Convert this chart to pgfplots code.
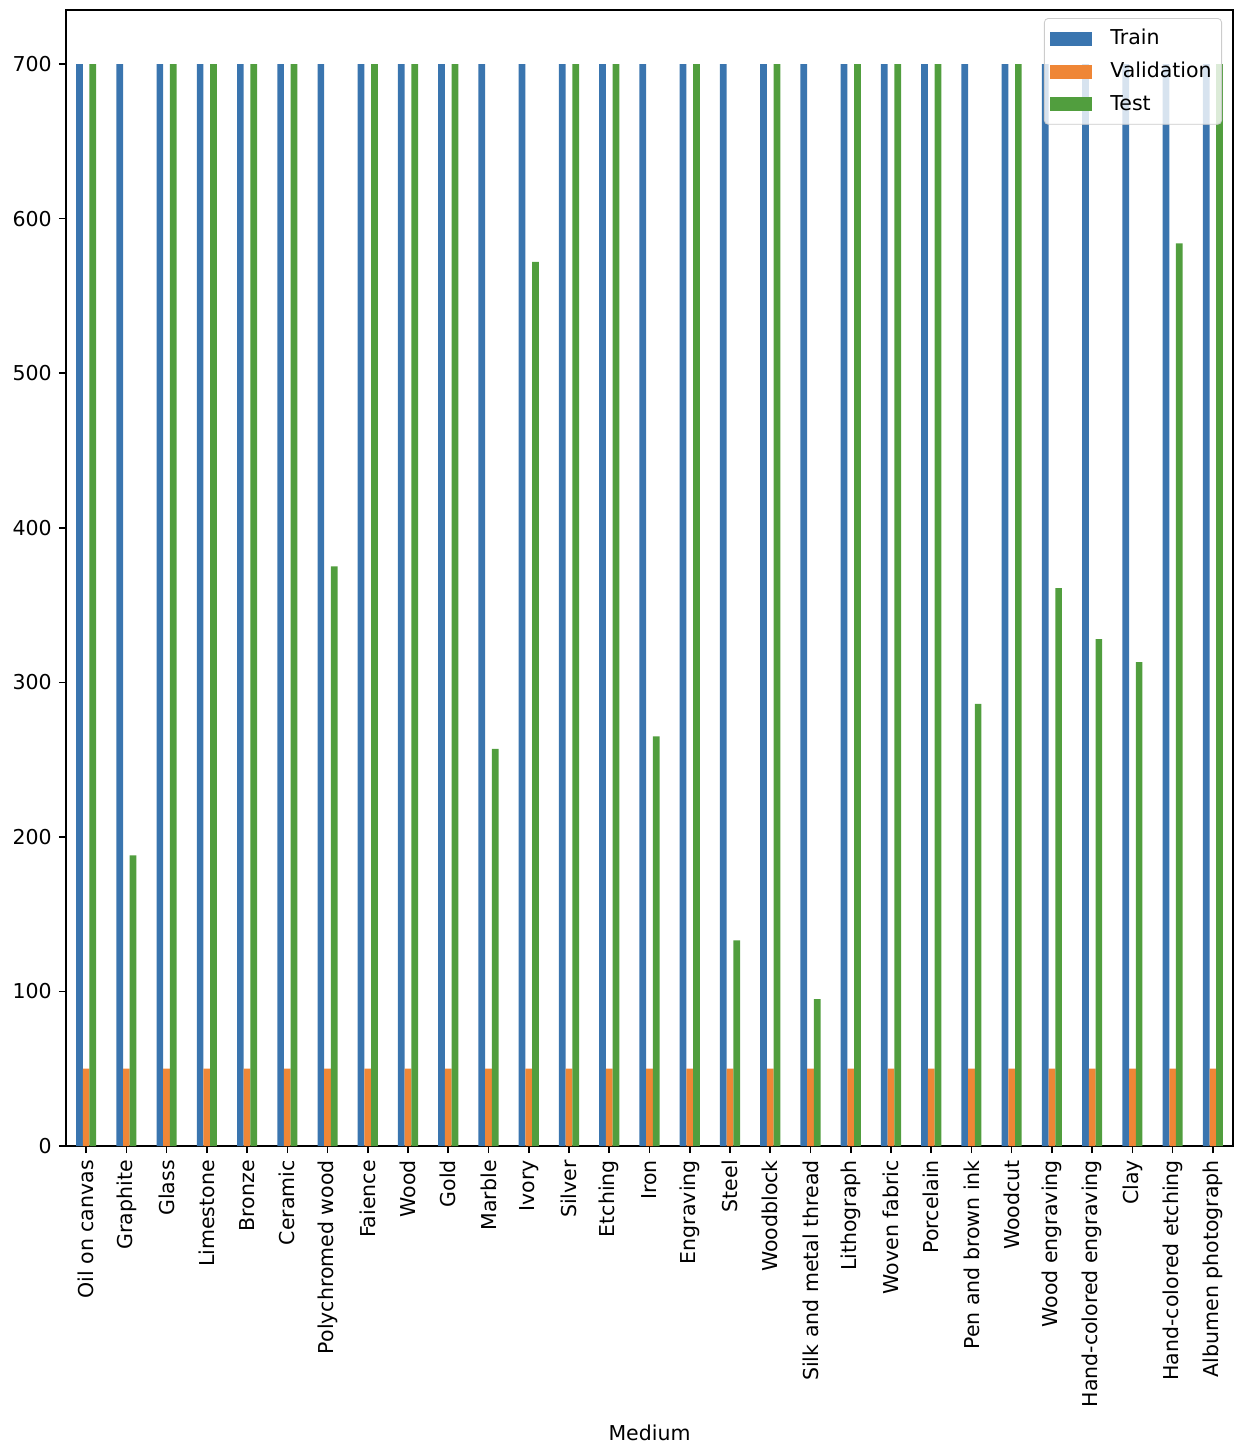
\documentclass[border=0pt]{standalone}
\usepackage{pgfplots}
\pgfplotsset{compat=1.18}
\usepackage{fontspec}
\setmainfont{DejaVu Sans}
\definecolor{cTrain}{HTML}{3A75AF}
\definecolor{cVal}{HTML}{EF8636}
\definecolor{cTest}{HTML}{519E3E}
\newcommand{\lf}{\fontsize{10.25}{12.3}\selectfont}
\begin{document}
\begin{tikzpicture}
\path[use as bounding box] (-33pt,-153pt) rectangle (596pt,573pt);
\begin{axis}[
  scale only axis,
  width=583.5pt, height=568pt,
  at={(0pt,0pt)}, anchor=south west,
  xmin=-0.5, xmax=28.5, ymin=0, ymax=735,
  ytick={0,100,200,300,400,500,600,700},
  xtick={0,...,28},
  xticklabels={Oil on canvas,Graphite,Glass,Limestone,Bronze,Ceramic,Polychromed wood,Faience,Wood,Gold,Marble,Ivory,Silver,Etching,Iron,Engraving,Steel,Woodblock,Silk and metal thread,Lithograph,Woven fabric,Porcelain,Pen and brown ink,Woodcut,Wood engraving,Hand-colored engraving,Clay,Hand-colored etching,Albumen photograph},
  x tick label style={rotate=90, anchor=east, font=\lf},
  y tick label style={font=\lf},
  /pgf/number format/assume math mode=true,
  tick align=outside, tick pos=lower,
  major tick length=3.6pt,
  tick style={black, line width=0.82pt},
  axis line style={line width=0.82pt},
  xlabel={Medium},
  xlabel style={font=\lf, yshift=-2pt},
  bar width=0.1667,
  legend style={at={(1,1)}, anchor=north east, xshift=-5.5pt, yshift=-4pt,
    draw=black!20, rounded corners=2pt, fill=white, fill opacity=0.8, text opacity=1,
    font=\lf, row sep=3.2pt, inner xsep=3pt, inner ysep=3.5pt,
    legend cell align=left},
  legend image code/.code={\fill[#1, fill opacity=1, sharp corners] (0pt,-3.5pt) rectangle (21pt,3.5pt); \path (28pt,0pt);},
]
\addplot[ybar, bar shift=-0.1667, fill=cTrain, draw=none] coordinates {
(0,700)(1,700)(2,700)(3,700)(4,700)(5,700)(6,700)(7,700)(8,700)(9,700)
(10,700)(11,700)(12,700)(13,700)(14,700)(15,700)(16,700)(17,700)(18,700)(19,700)
(20,700)(21,700)(22,700)(23,700)(24,700)(25,700)(26,700)(27,700)(28,700)};
\addlegendentry{Train}
\addplot[ybar, bar shift=0, fill=cVal, draw=none] coordinates {
(0,50)(1,50)(2,50)(3,50)(4,50)(5,50)(6,50)(7,50)(8,50)(9,50)
(10,50)(11,50)(12,50)(13,50)(14,50)(15,50)(16,50)(17,50)(18,50)(19,50)
(20,50)(21,50)(22,50)(23,50)(24,50)(25,50)(26,50)(27,50)(28,50)};
\addlegendentry{Validation}
\addplot[ybar, bar shift=0.1667, fill=cTest, draw=none] coordinates {
(0,700)(1,188)(2,700)(3,700)(4,700)(5,700)(6,375)(7,700)(8,700)(9,700)
(10,257)(11,572)(12,700)(13,700)(14,265)(15,700)(16,133)(17,700)(18,95)(19,700)
(20,700)(21,700)(22,286)(23,700)(24,361)(25,328)(26,313)(27,584)(28,700)};
\addlegendentry{Test}
\end{axis}
\end{tikzpicture}
\end{document}
